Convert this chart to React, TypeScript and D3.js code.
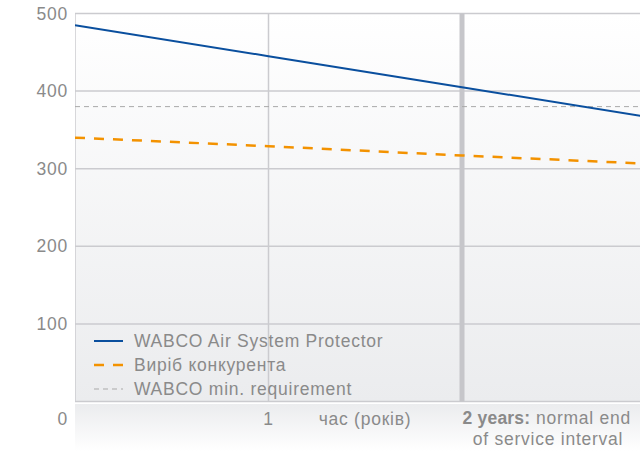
import React from "react";
import * as d3 from "d3";

const years = [0, 1, 2, 3];
const protector = [485, 445, 405, 365];
const competitor = [340, 329, 317, 306];
const minRequirement = 380;
const yTicks = [100, 200, 300, 400, 500];
const legendLabels = ["WABCO Air System Protector", "Виріб конкурента", "WABCO min. requirement"];

const W = 640;
const H = 451;
const FONT = "'Liberation Sans', Arial, sans-serif";
const GRID = "#cbcbcf";
const TEXT = "#8a8a8a";
const FS = 17.5;
const LS = 0.75;

export default function App() {
    const x = d3.scaleLinear().domain([0, 3]).range([75, 655.5]);
    const y = d3.scaleLinear().domain([0, 500]).range([401.5, 13.5]);

    const line = d3
        .line<number>()
        .x((_, i) => x(years[i]))
        .y((d) => y(d));

    const legend = [
        { label: legendLabels[0], color: "#0a4f9e", width: 2, dash: undefined },
        { label: legendLabels[1], color: "#f39200", width: 2.5, dash: "10,9" },
        { label: legendLabels[2], color: "#a9a9a9", width: 1, dash: "5,4" },
    ];

    return (
        <svg width={W} height={H} style={{ position: "fixed", left: 0, top: 0, background: "#fff" }}
             fontFamily={FONT} letterSpacing={LS}>
            <defs>
                <linearGradient id="plotBg" x1="0" y1="0" x2="0" y2="1">
                    <stop offset="0" stopColor="#ffffff" />
                    <stop offset="1" stopColor="#ebecee" />
                </linearGradient>
                <linearGradient id="axisBg" x1="0" y1="0" x2="0" y2="1">
                    <stop offset="0" stopColor="#ebecee" />
                    <stop offset="1" stopColor="#ffffff" />
                </linearGradient>
                <clipPath id="plotClip">
                    <rect x={x(0)} y={0} width={W - x(0)} height={H} />
                </clipPath>
            </defs>

            <rect x={x(0)} y={y(500)} width={W - x(0)} height={y(0) - y(500)} fill="url(#plotBg)" />
            <rect x={x(0)} y={y(0) + 2.5} width={W - x(0)} height={H - y(0) - 2.5} fill="url(#axisBg)" />

            <g clipPath="url(#plotClip)">
                {yTicks.map((t) => (
                    <line key={t} x1={x(0)} x2={W} y1={y(t)} y2={y(t)} stroke={GRID} strokeWidth={1.5} />
                ))}
                <line x1={x(0)} x2={W} y1={y(0)} y2={y(0)} stroke={GRID} strokeWidth={1.5} />
                <line x1={x(0)} x2={x(0)} y1={y(500)} y2={y(0)} stroke={GRID} strokeWidth={1.5} />
                <line x1={x(1)} x2={x(1)} y1={y(500)} y2={y(0)} stroke={GRID} strokeWidth={1.5} />
                <line x1={x(2)} x2={x(2)} y1={y(500)} y2={y(0)} stroke="#c6c6ca" strokeWidth={5} />

                <line x1={x(0)} x2={W} y1={y(minRequirement)} y2={y(minRequirement)} stroke="#a9a9a9" strokeWidth={1} strokeDasharray="5,4" />
                <path d={line(competitor) ?? undefined} fill="none" stroke="#f39200" strokeWidth={2.5} strokeDasharray="10,9" />
                <path d={line(protector) ?? undefined} fill="none" stroke="#0a4f9e" strokeWidth={2} />
            </g>

            <g fill={TEXT} fontSize={FS} textAnchor="end">
                {yTicks.map((t) => (
                    <text key={t} x={68} y={y(t)} dy="0.35em">{t}</text>
                ))}
                <text x={68} y={425}>0</text>
            </g>

            <g fill={TEXT} fontSize={FS} textAnchor="middle">
                <text x={x(1)} y={425}>1</text>
                <text x={365} y={425}>час (років)</text>
                <text x={631} y={424} textAnchor="end">
                    <tspan fontWeight="bold" letterSpacing={0.2}>2 years:</tspan> normal end
                </text>
                <text x={548} y={445}>of service interval</text>
            </g>

            <g fontSize={FS} fill={TEXT}>
                {legend.map((d, i) => (
                    <g key={d.label} transform={`translate(0,${341 + i * 24})`}>
                        <line x1={94} x2={123} y1={0} y2={0} stroke={d.color} strokeWidth={d.width} strokeDasharray={d.dash} />
                        <text x={134} y={0} dy="0.35em">{d.label}</text>
                    </g>
                ))}
            </g>
        </svg>
    );
}
